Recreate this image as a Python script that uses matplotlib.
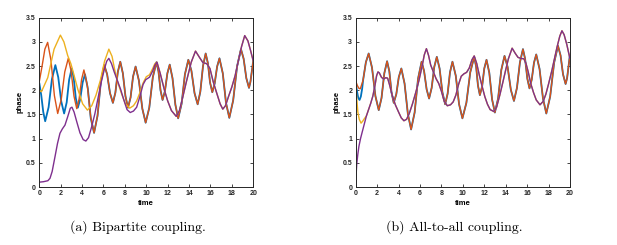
import numpy as np
import matplotlib
matplotlib.use("Agg")
import matplotlib.pyplot as plt
from matplotlib.ticker import FormatStrFormatter

# (time, phase) pairs
# ---- (a) bipartite coupling ----
left_red = [(0, 2.18), (0.26, 2.5), (0.52, 2.85), (0.78, 2.99), (1.09, 2.62), (1.41, 1.89), (1.72, 1.52),
            (2.05, 1.81), (2.38, 2.38), (2.71, 2.66), (2.97, 2.40), (3.24, 1.88), (3.50, 1.62), (3.72, 1.82),
            (3.95, 2.22), (4.17, 2.42), (4.49, 2.10), (4.80, 1.45), (5.12, 1.12), (5.44, 1.47), (5.75, 2.17),
            (6.07, 2.52), (6.34, 2.33), (6.61, 1.94), (6.88, 1.74), (7.11, 1.95), (7.34, 2.38), (7.57, 2.59),
            (7.81, 2.35), (8.05, 1.88), (8.29, 1.64), (8.53, 1.85), (8.76, 2.28), (9.00, 2.49), (9.31, 2.20),
            (9.63, 1.62), (9.94, 1.33), (10.28, 1.64), (10.61, 2.27), (10.95, 2.58), (11.14, 2.39), (11.33, 2.00),
            (11.52, 1.80), (11.74, 1.98), (11.97, 2.35), (12.19, 2.53), (12.45, 2.25), (12.72, 1.70), (12.98, 1.42),
            (13.30, 1.72), (13.61, 2.33), (13.93, 2.63), (14.22, 2.40), (14.51, 1.94), (14.80, 1.71), (15.05, 1.97),
            (15.30, 2.50), (15.55, 2.76), (15.76, 2.56), (15.96, 2.16), (16.17, 1.96), (16.39, 2.14), (16.62, 2.49),
            (16.84, 2.66), (17.15, 2.35), (17.45, 1.74), (17.76, 1.43), (18.12, 1.79), (18.49, 2.50), (18.85, 2.85),
            (19.10, 2.65), (19.35, 2.25), (19.60, 2.05), (19.73, 2.17), (19.87, 2.40), (20.0, 2.62)]

# blue follows red after t ~ 5.1
left_blue_start = [(0, 2.15), (0.18, 1.9), (0.37, 1.55), (0.55, 1.36), (0.87, 1.65), (1.18, 2.23), (1.50, 2.52),
                   (1.77, 2.27), (2.05, 1.77), (2.32, 1.52), (2.56, 1.75), (2.79, 2.22), (3.03, 2.45), (3.22, 2.25),
                   (3.41, 1.84), (3.60, 1.64), (3.82, 1.81), (4.05, 2.16), (4.27, 2.33), (4.54, 2.03), (4.81, 1.42)]
left_blue_join = 5.1

# yellow follows purple after t ~ 11
left_yellow_start = [(0, 2.0), (0.2, 1.97), (0.79, 2.26), (1.38, 2.85), (1.97, 3.14), (2.3, 3.0), (2.65, 2.72),
                     (2.95, 2.55), (3.2, 2.35), (3.6, 2.02), (4.05, 1.72), (4.5, 1.59), (4.9, 1.68), (5.3, 1.9),
                     (5.7, 2.2), (6.1, 2.6), (6.5, 2.85), (6.8, 2.7), (7.05, 2.42), (7.35, 2.15), (7.7, 1.92),
                     (8.05, 1.72), (8.45, 1.63), (8.8, 1.68), (9.1, 1.78), (9.4, 1.95), (9.7, 2.15), (10.0, 2.28),
                     (10.3, 2.32), (10.6, 2.45), (10.8, 2.55)]
left_yellow_join = 10.9

left_purple = [(0, 0.10), (0.4, 0.11), (0.8, 0.13), (1.0, 0.18), (1.2, 0.32), (1.47, 0.63), (1.7, 0.9),
               (1.93, 1.11), (2.15, 1.2), (2.4, 1.28), (2.65, 1.45), (2.9, 1.63), (3.05, 1.65), (3.25, 1.55),
               (3.5, 1.35), (3.8, 1.12), (4.1, 0.98), (4.35, 0.95), (4.6, 1.02), (4.9, 1.25), (5.2, 1.52),
               (5.5, 1.85), (5.8, 2.18), (6.1, 2.45), (6.3, 2.6), (6.5, 2.66), (6.75, 2.55), (7.0, 2.38),
               (7.3, 2.2), (7.6, 2.02), (7.9, 1.8), (8.2, 1.6), (8.5, 1.54), (8.8, 1.57), (9.1, 1.65),
               (9.4, 1.87), (9.7, 2.12), (9.95, 2.22), (10.3, 2.27), (10.6, 2.4), (10.8, 2.52), (11.0, 2.58),
               (11.3, 2.35), (11.7, 2.0), (12.0, 1.78), (12.35, 1.58), (12.8, 1.46), (13.1, 1.58), (13.4, 1.85),
               (13.75, 2.18), (14.2, 2.58), (14.6, 2.81), (15.0, 2.67), (15.3, 2.57), (15.65, 2.55), (15.95, 2.45),
               (16.25, 2.18), (16.6, 1.93), (16.9, 1.72), (17.15, 1.61), (17.4, 1.68), (17.7, 1.88), (18.0, 2.07),
               (18.3, 2.3), (18.6, 2.6), (18.9, 2.9), (19.2, 3.13), (19.5, 3.02), (19.75, 2.82), (20.0, 2.6)]

# ---- (b) all-to-all coupling ----
right_red = [(0, 2.19), (0.15, 2.1), (0.3, 2.04), (0.43, 2.03), (0.69, 2.21), (0.95, 2.58), (1.21, 2.76),
             (1.52, 2.47), (1.84, 1.88), (2.15, 1.59), (2.41, 1.84), (2.67, 2.35), (2.93, 2.60), (3.14, 2.39),
             (3.34, 1.96), (3.55, 1.74), (3.79, 1.92), (4.02, 2.27), (4.26, 2.45), (4.56, 2.14), (4.87, 1.51),
             (5.17, 1.19), (5.50, 1.54), (5.82, 2.24), (6.15, 2.59), (6.38, 2.40), (6.62, 2.02), (6.85, 1.83),
             (7.09, 2.05), (7.33, 2.48), (7.57, 2.69), (7.83, 2.45), (8.09, 1.96), (8.35, 1.71), (8.58, 1.93),
             (8.80, 2.37), (9.03, 2.59), (9.34, 2.30), (9.65, 1.71), (9.96, 1.42), (10.33, 1.74), (10.69, 2.37),
             (11.06, 2.69), (11.24, 2.49), (11.41, 2.10), (11.59, 1.90), (11.80, 2.08), (12.0, 2.45), (12.21, 2.63),
             (12.47, 2.36), (12.73, 1.81), (12.99, 1.54), (13.29, 1.83), (13.59, 2.42), (13.89, 2.71), (14.18, 2.48),
             (14.48, 2.01), (14.77, 1.78), (15.05, 2.05), (15.33, 2.58), (15.61, 2.85), (15.81, 2.65), (16.02, 2.24),
             (16.22, 2.04), (16.43, 2.22), (16.64, 2.57), (16.85, 2.74), (17.16, 2.44), (17.48, 1.83), (17.79, 1.52),
             (18.15, 1.87), (18.52, 2.57), (18.88, 2.92), (19.12, 2.72), (19.35, 2.33), (19.59, 2.13), (19.73, 2.25),
             (19.87, 2.5), (20.0, 2.74)]

right_blue_start = [(0, 2.17), (0.12, 1.98), (0.24, 1.84), (0.36, 1.80), (0.48, 1.87), (0.6, 2.03)]
right_blue_join = 0.65

right_yellow_start = [(0, 2.12), (0.1, 1.82), (0.2, 1.55), (0.33, 1.40), (0.5, 1.32), (0.65, 1.36),
                      (0.8, 1.41), (0.9, 1.44)]
right_yellow_join = 0.95

right_purple = [(0, 0.05), (0.05, 0.3), (0.1, 0.48), (0.2, 0.68), (0.3, 0.84), (0.45, 1.0), (0.6, 1.13),
                (0.8, 1.3), (1.0, 1.47), (1.2, 1.6), (1.4, 1.73), (1.6, 1.88), (1.8, 2.1), (1.95, 2.3),
                (2.08, 2.38), (2.2, 2.36), (2.4, 2.27), (2.6, 2.23), (2.8, 2.26), (2.98, 2.25), (3.15, 2.12),
                (3.4, 1.9), (3.7, 1.7), (4.0, 1.55), (4.25, 1.43), (4.5, 1.37), (4.75, 1.4), (5.0, 1.52),
                (5.3, 1.72), (5.6, 1.95), (5.9, 2.2), (6.2, 2.5), (6.4, 2.73), (6.6, 2.86), (6.8, 2.72),
                (7.0, 2.52), (7.25, 2.38), (7.5, 2.24), (7.75, 2.14), (8.0, 1.98), (8.25, 1.78), (8.55, 1.68),
                (8.85, 1.7), (9.1, 1.76), (9.35, 1.9), (9.6, 2.12), (9.85, 2.29), (10.1, 2.34), (10.35, 2.37),
                (10.6, 2.46), (10.85, 2.63), (11.06, 2.71), (11.3, 2.55), (11.55, 2.3), (11.8, 2.08), (12.05, 1.87),
                (12.3, 1.71), (12.55, 1.6), (12.9, 1.56), (13.15, 1.65), (13.45, 1.9), (13.75, 2.18), (14.0, 2.42),
                (14.25, 2.65), (14.6, 2.87), (14.9, 2.76), (15.15, 2.68), (15.4, 2.66), (15.7, 2.65), (15.9, 2.55),
                (16.1, 2.38), (16.35, 2.13), (16.6, 1.95), (16.85, 1.8), (17.2, 1.70), (17.5, 1.77), (17.75, 1.92),
                (18.0, 2.13), (18.3, 2.4), (18.55, 2.65), (18.8, 2.9), (19.05, 3.12), (19.25, 3.23), (19.45, 3.15),
                (19.7, 2.95), (19.85, 2.8), (20.0, 2.65)]

captions = ["(a) Bipartite coupling.", "(b) All-to-all coupling."]
x_ticks = np.arange(0, 21, 2)
y_ticks = np.arange(0, 3.51, 0.5)

c_blue, c_red, c_yellow, c_purple = "#0072BD", "#D95319", "#EDB120", "#7E2F8E"


def follow(start, other, t_join):
    """early part of a curve, then the curve it merges into"""
    s = np.array(start)
    o = np.array(other)
    o = o[o[:, 0] >= t_join]
    return np.vstack([s, o])


def draw(ax, blue, red, yellow, purple):
    for data, col, lw in [(blue, c_blue, 1.3), (red, c_red, 1.0), (yellow, c_yellow, 1.0), (purple, c_purple, 1.0)]:
        d = np.array(data)
        ax.plot(d[:, 0], d[:, 1], color=col, lw=lw, solid_capstyle="round")
    ax.set_xlim(0, 20)
    ax.set_ylim(0, 3.5)
    ax.set_xticks(x_ticks)
    ax.set_yticks(y_ticks)
    ax.yaxis.set_major_formatter(FormatStrFormatter("%g"))
    ax.tick_params(direction="in", top=True, right=True, length=2.2, width=0.6,
                   labelsize=5, pad=2.5, colors="#262626")
    for lab in ax.get_xticklabels() + ax.get_yticklabels():
        lab.set_fontweight("bold")
        lab.set_family("Liberation Sans")
    for sp in ax.spines.values():
        sp.set_linewidth(0.7)
        sp.set_color("#262626")
    ax.set_xlabel("time", fontsize=5.5, fontweight="bold", family="Liberation Sans", labelpad=1.5)
    ax.set_ylabel("phase", fontsize=5.5, fontweight="bold", family="Liberation Sans", labelpad=1.5)


fig = plt.figure(figsize=(6.17, 2.45), dpi=100)
ax1 = fig.add_axes([0.0637, 0.2367, 0.3468, 0.691])
ax2 = fig.add_axes([0.5765, 0.2367, 0.3473, 0.691])

draw(ax1, follow(left_blue_start, left_red, left_blue_join), left_red,
     follow(left_yellow_start, left_purple, left_yellow_join), left_purple)
draw(ax2, follow(right_blue_start, right_red, right_blue_join), right_red,
     follow(right_yellow_start, right_purple, right_yellow_join), right_purple)

fig.text(0.223, 0.073, captions[0], fontsize=10, family="cmr10", ha="center", va="center")
fig.text(0.737, 0.073, captions[1], fontsize=10, family="cmr10", ha="center", va="center")

fig.savefig("out.png", dpi=100)
